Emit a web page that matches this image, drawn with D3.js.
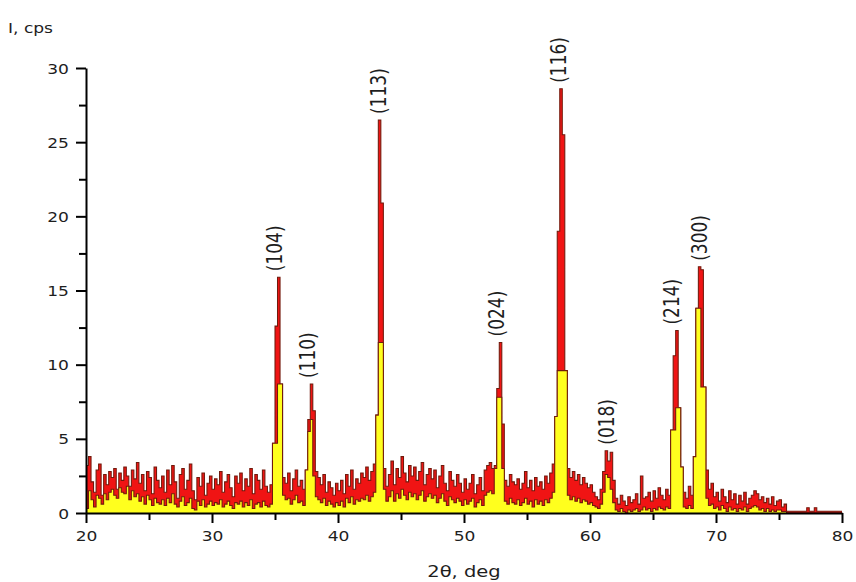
<!DOCTYPE html>
<html>
<head>
<meta charset="utf-8">
<script src="https://cdn.jsdelivr.net/npm/d3@7"></script>
<style>
  body { margin: 0; background: #fff; }
  text { font-family: "DejaVu Sans", sans-serif; fill: #1e1e1e; }
</style>
</head>
<body>
<svg id="chart" width="856" height="582"></svg>
<script>
// Diffraction scan: 2θ from 20° to 80°, step 0.2°
const scanStart = 20;
const scanStep = 0.2;

// Upper (red) trace, counts per second, one row per 2°
const upperCounts = [
  3.2,3.8,2.1,1.4,2.9,3.3,1.2,2.6,1.9,2.8,
  2.4,3.0,1.6,2.7,2.2,3.1,2.5,1.8,2.9,2.3,
  3.4,2.0,2.6,1.5,2.8,2.4,1.3,3.1,2.2,1.7,
  2.5,1.4,2.9,1.9,3.2,2.1,1.0,2.6,3.0,1.6,
  2.2,3.3,1.5,0.9,2.4,1.8,2.7,1.2,2.0,2.5,
  1.6,2.3,1.9,2.8,1.4,2.1,2.6,1.7,1.1,2.5,
  2.0,2.7,1.5,2.3,1.8,3.0,1.3,2.6,2.2,1.6,
  2.9,1.8,1.4,1.9,4.7,12.6,15.9,8.7,2.4,2.0,
  2.7,1.5,2.3,2.9,1.8,2.2,1.6,2.9,6.3,8.7,
  6.9,2.8,2.4,1.9,2.6,1.4,2.1,1.7,1.2,2.0,
  1.5,2.2,1.3,2.6,1.8,2.9,1.6,2.3,2.0,2.7,
  2.4,3.1,2.2,2.8,3.3,6.6,26.5,20.9,3.0,1.8,
  2.6,3.5,1.9,3.0,2.4,3.8,2.7,2.1,3.2,2.5,
  3.1,2.2,2.8,3.4,1.9,2.6,3.0,2.3,2.9,1.7,
  2.5,3.2,2.0,1.5,2.8,2.2,1.8,2.6,2.0,1.4,
  2.3,1.6,2.0,2.6,1.3,1.9,2.4,1.5,2.9,3.2,
  3.4,3.0,3.2,8.4,11.5,6.0,2.2,1.8,2.6,2.1,
  1.9,2.3,1.6,2.0,2.8,1.7,2.2,1.5,2.4,1.8,
  2.1,1.6,2.5,2.0,2.7,3.3,6.5,19.0,28.6,25.5,
  9.6,3.0,2.4,2.8,2.2,2.6,1.9,2.4,2.0,1.7,
  1.9,1.4,1.1,0.9,1.6,2.8,4.2,3.5,4.1,2.2,
  1.0,0.6,1.2,0.8,0.5,1.1,0.7,0.9,1.3,0.6,
  2.5,1.0,1.1,1.4,0.8,1.5,1.0,1.7,1.2,0.9,
  1.6,1.2,5.6,10.6,12.3,7.1,3.1,1.4,1.0,1.8,
  1.2,3.8,13.8,16.6,16.4,8.5,2.9,1.6,2.0,1.1,
  1.4,0.8,1.6,1.1,0.7,1.5,0.9,1.3,0.6,1.2,
  0.8,1.4,0.6,1.0,1.2,1.5,1.3,0.9,1.1,0.7,
  1.0,0.6,1.1,0.5,0.8,0.9,0.4,0.6,0.12,0.12,
  0.12,0.12,0.12,0.12,0.12,0.12,0.35,0.12,0.12,0.35,
  0.12,0.12,0.12,0.12,0.12,0.12,0.12,0.12,0.12,0.12,
  0.12
];

// Lower (yellow) trace, counts per second
const lowerCounts = [
  0.3,1.5,0.9,0.4,1.2,1.0,0.6,1.3,0.9,1.4,
  1.6,1.2,1.0,1.7,1.4,1.3,1.8,0.9,1.5,1.1,
  1.3,0.8,1.1,0.6,1.2,0.9,0.5,1.0,0.7,0.6,
  0.9,0.5,1.0,0.7,1.3,0.6,0.4,0.8,1.1,0.5,
  0.7,1.0,0.3,0.2,0.8,0.5,0.9,0.4,0.6,0.8,
  0.5,0.7,0.6,0.9,0.4,0.6,0.8,0.5,0.3,0.7,
  0.6,0.8,0.4,0.7,0.5,0.9,0.3,0.6,0.7,0.4,
  0.8,0.5,0.4,0.6,4.7,4.7,8.7,8.7,1.2,0.9,
  1.0,0.6,0.9,1.2,0.7,0.8,0.5,2.9,5.5,6.3,
  2.5,1.1,0.9,0.7,1.0,0.5,0.8,0.6,0.4,0.7,
  0.5,0.8,0.4,1.0,0.7,1.1,0.6,0.9,0.8,1.0,
  0.9,1.2,0.8,1.1,1.4,6.6,11.5,11.5,1.6,0.8,
  1.1,1.5,0.8,1.3,1.0,1.6,1.2,0.9,1.4,1.1,
  1.3,0.9,1.2,1.5,0.8,1.1,1.3,1.0,1.2,0.7,
  1.0,1.3,0.8,0.5,1.1,0.9,0.7,1.0,0.8,0.5,
  0.9,0.6,0.8,1.0,0.4,0.7,0.9,0.5,1.2,1.4,
  1.5,1.3,3.0,7.8,7.8,3.0,0.8,0.6,1.0,0.7,
  0.6,0.9,0.5,0.7,1.0,0.6,0.8,0.4,0.9,0.6,
  0.8,0.5,0.9,0.7,1.0,1.4,6.5,9.6,9.6,9.6,
  9.6,1.2,0.9,1.1,0.8,1.0,0.7,0.9,0.8,0.6,
  0.7,0.5,0.4,0.3,0.6,1.4,2.6,2.4,1.6,0.7,
  0.2,0.1,0.3,0.1,0.0,0.2,0.1,0.2,0.3,0.1,
  0.2,0.4,0.2,0.3,0.1,0.3,0.2,0.4,0.3,0.2,
  0.4,0.3,5.6,5.6,7.1,7.1,3.1,0.4,0.3,0.5,
  0.3,3.8,13.8,13.8,8.5,8.5,1.0,0.5,0.6,0.3,
  0.4,0.2,0.5,0.3,0.1,0.4,0.2,0.3,0.1,0.3,
  0.2,0.4,0.1,0.3,0.4,0.5,0.4,0.2,0.3,0.1,
  0.3,0.1,0.2,0.1,0.2,0.2,0.1,0.1,0,0,
  0,0,0,0,0,0,0,0,0,0,
  0,0,0,0,0,0,0,0,0,0,
  0
];

// Miller indices of the indexed reflections
const peakLabels = ["(104)", "(110)", "(113)", "(024)", "(116)", "(018)", "(214)", "(300)"];
const peakAngles = [35.1, 37.7, 43.3, 52.7, 57.6, 61.4, 66.6, 68.8];
const peakHeights = [15.9, 8.7, 26.5, 11.5, 28.6, 4.2, 12.3, 16.6];

// Axis ticks
const xMajorTicks = [20, 30, 40, 50, 60, 70, 80];
const xMinorTicks = [25, 35, 45, 55, 65, 75];
const yMajorTicks = [0, 5, 10, 15, 20, 25, 30];
const yMinorTicks = [2.5, 7.5, 12.5, 17.5, 22.5, 27.5];

const xTitle = "2θ, deg";
const yTitle = "I, cps";

const svg = d3.select("#chart");
const x = d3.scaleLinear().domain([20, 80]).range([86, 842]);
const y = d3.scaleLinear().domain([0, 30]).range([513, 68]);

const angles = upperCounts.map((_, i) => +(scanStart + scanStep * i).toFixed(2));
const upper = angles.map((a, i) => ({ a, v: upperCounts[i] }));
const lower = angles.map((a, i) => ({ a, v: lowerCounts[i] }));

const outline = "#701a0c";
const area = d3.area().curve(d3.curveStepAfter).x(d => x(d.a)).y0(y(0)).y1(d => y(d.v));
const line = d3.line().curve(d3.curveStepAfter).x(d => x(d.a)).y(d => y(d.v));

const plot = svg.append("g");
plot.append("path").datum(upper).attr("d", area).attr("fill", "#f01414");
plot.append("path").datum(upper).attr("d", line).attr("fill", "none")
  .attr("stroke", outline).attr("stroke-width", 1.05);
plot.append("path").datum(lower).attr("d", area).attr("fill", "#ffff1e");
plot.append("path").datum(lower).attr("d", line).attr("fill", "none")
  .attr("stroke", outline).attr("stroke-width", 1.05);

// Horizontal stretch for the wide glyph look
const SX = 1.22;

// Axes
function styleAxis(g) {
  g.select(".domain").attr("stroke", "#000").attr("stroke-width", 2);
  g.selectAll(".tick line").attr("stroke", "#000").attr("stroke-width", 2);
}

const xAxis = svg.append("g").attr("transform", `translate(0,${y(0)})`)
  .call(d3.axisBottom(x).tickValues(xMajorTicks).tickSize(10).tickSizeOuter(0).tickFormat(d3.format("d")));
styleAxis(xAxis);
xAxis.selectAll(".tick text")
  .attr("y", 0).attr("dy", 0)
  .attr("transform", `translate(0,28) scale(${SX},1)`)
  .attr("font-size", 14).attr("font-family", "DejaVu Sans").attr("fill", "#1e1e1e");

const xMinor = svg.append("g").attr("transform", `translate(0,${y(0)})`)
  .call(d3.axisBottom(x).tickValues(xMinorTicks).tickSize(7).tickFormat(""));
xMinor.select(".domain").remove();
xMinor.selectAll(".tick line").attr("stroke", "#000").attr("stroke-width", 2);

const yAxis = svg.append("g").attr("transform", `translate(${x(20)},0)`)
  .call(d3.axisLeft(y).tickValues(yMajorTicks).tickSize(10).tickSizeOuter(0).tickFormat(d3.format("d")));
styleAxis(yAxis);
yAxis.selectAll(".tick text")
  .attr("x", 0).attr("dy", "0.36em")
  .attr("transform", `translate(-17,0) scale(${SX},1)`)
  .attr("font-size", 14).attr("font-family", "DejaVu Sans").attr("fill", "#1e1e1e");

const yMinor = svg.append("g").attr("transform", `translate(${x(20)},0)`)
  .call(d3.axisLeft(y).tickValues(yMinorTicks).tickSize(7).tickFormat(""));
yMinor.select(".domain").remove();
yMinor.selectAll(".tick line").attr("stroke", "#000").attr("stroke-width", 2);

// Axis titles
svg.append("text")
  .attr("transform", `translate(${x(50)},577) scale(${SX},1)`)
  .attr("font-size", 16).attr("text-anchor", "middle")
  .text(xTitle);

svg.append("text")
  .attr("transform", `translate(8,33) scale(${SX},1)`)
  .attr("font-size", 14)
  .text(yTitle);

// Reflection labels, written vertically above each peak
svg.append("g").selectAll("text")
  .data(peakLabels)
  .join("text")
  .attr("transform", (d, i) => `translate(${x(peakAngles[i]) + 6},${y(peakHeights[i]) - 6}) scale(${SX},1) rotate(-90)`)
  .attr("font-size", 17)
  .attr("text-anchor", "start")
  .text(d => d);
</script>
</body>
</html>
